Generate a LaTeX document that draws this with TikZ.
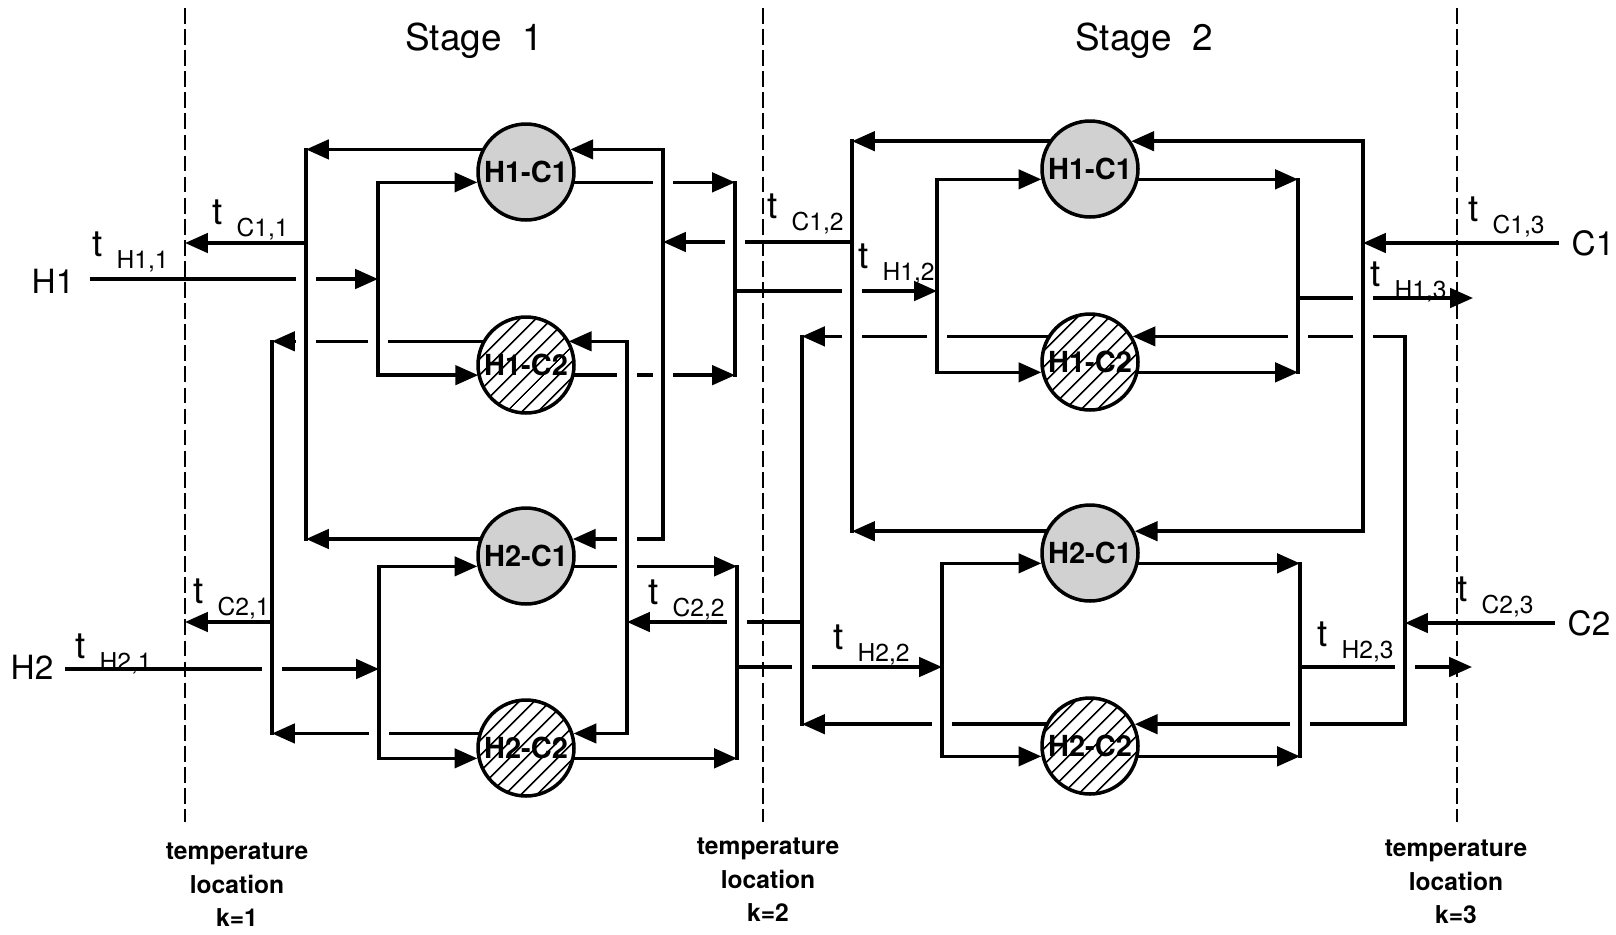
\documentclass[tikz,border=0pt]{standalone}
\usepackage{fontspec}
\setmainfont{TeX Gyre Heros}
\usetikzlibrary{arrows.meta,patterns.meta}

\newcommand{\tsub}[1]{t\hspace{8pt}\raisebox{-7pt}{\fontsize{14}{14}\selectfont #1}}

\tikzset{
  flow/.style={line width=2pt, line cap=rect},
  arr/.style={flow, -{Triangle[length=13pt,width=11pt]}},
  hx/.style={circle, draw, line width=2pt, minimum size=1.92cm, inner sep=0pt,
             font=\fontsize{16.5}{16.5}\selectfont\bfseries},
  hxdot/.style={hx, fill=black!18},
  hxhatch/.style={hx, preaction={fill=white},
                  pattern={Lines[angle=45,distance=6.4pt,line width=1pt]}},
  gapbox/.style={fill=white, inner sep=0pt, minimum width=0.4cm, minimum height=0.15cm},
  tloc/.style={line width=1.5pt, dash pattern=on 9pt off 3pt},
  tl/.style={anchor=base west, inner sep=0pt, font=\fontsize{21}{21}\selectfont},
  strm/.style={inner sep=0pt, font=\fontsize{19}{19}\selectfont},
  stage/.style={inner sep=0pt, font=\fontsize{21}{21}\selectfont},
  loc/.style={inner sep=0pt, align=center, font=\fontsize{14}{19}\selectfont\bfseries}
}

\begin{document}
\begin{tikzpicture}[x=0.02cm, y=-0.02cm]
  \useasboundingbox (0,0) rectangle (1616,934);

  % exchangers
  \node[hxdot]   (s1a) at (526,172) {H1-C1};
  \node[hxhatch] (s1b) at (526,365) {H1-C2};
  \node[hxdot]   (s1c) at (526,556) {H2-C1};
  \node[hxhatch] (s1d) at (526,748) {H2-C2};
  \node[hxdot]   (s2a) at (1090,169) {H1-C1};
  \node[hxhatch] (s2b) at (1090,362) {H1-C2};
  \node[hxdot]   (s2c) at (1090,553) {H2-C1};
  \node[hxhatch] (s2d) at (1090,746) {H2-C2};

  % vertical bars (mixers, splitters)
  \coordinate (c2col1) at (272,0);  \coordinate (c1col1) at (306,0);
  \coordinate (h1spl1) at (378,0);  \coordinate (h2spl1) at (379,0);
  \coordinate (c2dis1) at (627,0);  \coordinate (c1dis1) at (663,0);
  \coordinate (h1mix1) at (735,0);  \coordinate (h2mix1) at (737,0);
  \coordinate (c2col2) at (802,0);  \coordinate (c1col2) at (852,0);
  \coordinate (h1spl2) at (937,0);  \coordinate (h2spl2) at (942,0);
  \coordinate (h1mix2) at (1298,0); \coordinate (h2mix2) at (1300,0);
  \coordinate (c1dis2) at (1363,0); \coordinate (c2dis2) at (1405,0);

  % stream ends
  \coordinate (h1in) at (92,279);    \coordinate (h2in) at (67,669);
  \coordinate (c1out) at (185,243);  \coordinate (c2out) at (185,622);
  \coordinate (c1mid) at (0,242);    \coordinate (h1mid) at (0,291);
  \coordinate (c2mid) at (0,622);    \coordinate (h2mid) at (0,667);
  \coordinate (h1out) at (1473,298); \coordinate (h2out) at (1472,667);
  \coordinate (c1in) at (1557,243);  \coordinate (c2in) at (1553,623);

  % stage 1
  \draw[arr] (h1in) -- (h1in -| h1spl1);
  \draw[arr] (h2in) -- (h2in -| h2spl1);
  \draw[arr] (c1out -| c1col1) -- (c1out);
  \draw[arr] (c2out -| c2col1) -- (c2out);
  \draw[arr] (s1a.153) -- (s1a.153 -| c1col1);
  \draw[arr] (s1b.151) -- (s1b.151 -| c2col1);
  \draw[arr] (s1c.160) -- (s1c.160 -| c1col1);
  \draw[arr] (s1d.163) -- (s1d.163 -| c2col1);
  \draw[arr] (s1a.192 -| h1spl1) -- (s1a.192);
  \draw[arr] (s1b.192 -| h1spl1) -- (s1b.192);
  \draw[arr] (s1c.192 -| h2spl1) -- (s1c.192);
  \draw[arr] (s1d.192 -| h2spl1) -- (s1d.192);
  \draw[arr] (s1a.27 -| c1dis1) -- (s1a.27);
  \draw[arr] (s1b.29 -| c2dis1) -- (s1b.29);
  \draw[arr] (s1c.20 -| c1dis1) -- (s1c.20);
  \draw[arr] (s1d.17 -| c2dis1) -- (s1d.17);
  \draw[arr] (s1a.348) -- (s1a.348 -| h1mix1);
  \draw[arr] (s1b.348) -- (s1b.348 -| h1mix1);
  \draw[arr] (s1c.348) -- (s1c.348 -| h2mix1);
  \draw[arr] (s1d.348) -- (s1d.348 -| h2mix1);

  % between the stages
  \draw[arr] (h1mid -| h1mix1) -- (h1mid -| h1spl2);
  \draw[arr] (c1mid -| c1col2) -- (c1mid -| c1dis1);
  \draw[arr] (c2mid -| c2col2) -- (c2mid -| c2dis1);
  \draw[arr] (h2mid -| h2mix1) -- (h2mid -| h2spl2);

  % stage 2
  \draw[arr] (s2a.146) -- (s2a.146 -| c1col2);
  \draw[arr] (s2b.149) -- (s2b.149 -| c2col2);
  \draw[arr] (s2c.154) -- (s2c.154 -| c1col2);
  \draw[arr] (s2d.154) -- (s2d.154 -| c2col2);
  \draw[arr] (s2a.192 -| h1spl2) -- (s2a.192);
  \draw[arr] (s2b.192 -| h1spl2) -- (s2b.192);
  \draw[arr] (s2c.192 -| h2spl2) -- (s2c.192);
  \draw[arr] (s2d.192 -| h2spl2) -- (s2d.192);
  \draw[arr] (s2a.34 -| c1dis2) -- (s2a.34);
  \draw[arr] (s2b.31 -| c2dis2) -- (s2b.31);
  \draw[arr] (s2c.26 -| c1dis2) -- (s2c.26);
  \draw[arr] (s2d.26 -| c2dis2) -- (s2d.26);
  \draw[arr] (s2a.348) -- (s2a.348 -| h1mix2);
  \draw[arr] (s2b.348) -- (s2b.348 -| h1mix2);
  \draw[arr] (s2c.348) -- (s2c.348 -| h2mix2);
  \draw[arr] (s2d.348) -- (s2d.348 -| h2mix2);
  \draw[arr] (h1out -| h1mix2) -- (h1out);
  \draw[arr] (h2out -| h2mix2) -- (h2out);
  \draw[arr] (c1in) -- (c1in -| c1dis2);
  \draw[arr] (c2in) -- (c2in -| c2dis2);

  % breaks where lines cross
  \foreach \p/\q in {h1in/c1col1, h2in/c2col1, s1b.151/c1col1, s1b.151/h1spl1,
      s1d.163/h2spl1, s1a.348/c1dis1, s1b.348/c2dis1, s1b.348/c1dis1,
      s1c.20/c2dis1, s1c.348/c2dis1, h1mid/c1col2, c1mid/h1mix1,
      c2mid/h2mix1, h2mid/c2col2, s2b.149/h1spl2, s2b.149/c1col2,
      s2d.154/h2spl2, s2b.31/h1mix2, s2b.31/c1dis2, s2d.26/h2mix2,
      h1out/c1dis2, h2out/c2dis2}
    \node[gapbox] at (\p -| \q) {};

  \draw[flow] (s1a.153 -| c1col1) -- (s1c.160 -| c1col1);
  \draw[flow] (s1b.151 -| c2col1) -- (s1d.163 -| c2col1);
  \draw[flow] (s1a.192 -| h1spl1) -- (s1b.192 -| h1spl1);
  \draw[flow] (s1c.192 -| h2spl1) -- (s1d.192 -| h2spl1);
  \draw[flow] (s1a.27 -| c1dis1) -- (s1c.20 -| c1dis1);
  \draw[flow] (s1b.29 -| c2dis1) -- (s1d.17 -| c2dis1);
  \draw[flow] (s1a.348 -| h1mix1) -- (s1b.348 -| h1mix1);
  \draw[flow] (s1c.348 -| h2mix1) -- (s1d.348 -| h2mix1);
  \draw[flow] (s2a.146 -| c1col2) -- (s2c.154 -| c1col2);
  \draw[flow] (s2b.149 -| c2col2) -- (s2d.154 -| c2col2);
  \draw[flow] (s2a.192 -| h1spl2) -- (s2b.192 -| h1spl2);
  \draw[flow] (s2c.192 -| h2spl2) -- (s2d.192 -| h2spl2);
  \draw[flow] (s2a.34 -| c1dis2) -- (s2c.26 -| c1dis2);
  \draw[flow] (s2b.31 -| c2dis2) -- (s2d.26 -| c2dis2);
  \draw[flow] (s2a.348 -| h1mix2) -- (s2b.348 -| h1mix2);
  \draw[flow] (s2c.348 -| h2mix2) -- (s2d.348 -| h2mix2);

  % temperature locations
  \foreach \x in {185,763,1457}
    \draw[tloc] (\x,8) -- (\x,822);

  \node[stage] (st1) at (474,41) {Stage\ \ 1};
  \node[stage] (st2) at (1144,41) {Stage\ \ 2};
  \node[strm] (H1) at (53,281) {H1};
  \node[strm] (H2) at (32,667) {H2};
  \node[strm] (C1) at (1593,243) {C1};
  \node[strm] (C2) at (1589,623) {C2};

  \node[tl] (tc11) at (212,224) {\tsub{C1,1}};
  \node[tl] (th11) at (92,256) {\tsub{H1,1}};
  \node[tl] (tc21) at (193,603) {\tsub{C2,1}};
  \node[tl] (th21) at (75,658) {\tsub{H2,1}};
  \node[tl] (tc12) at (767,218) {\tsub{C1,2}};
  \node[tl] (th12) at (858,268) {\tsub{H1,2}};
  \node[tl] (tc22) at (648,604) {\tsub{C2,2}};
  \node[tl] (th22) at (833,649) {\tsub{H2,2}};
  \node[tl] (tc13) at (1468,221) {\tsub{C1,3}};
  \node[tl] (th13) at (1370,286) {\tsub{H1,3}};
  \node[tl] (tc23) at (1457,601) {\tsub{C2,3}};
  \node[tl] (th23) at (1317,646) {\tsub{H2,3}};

  \node[loc] (k1) at (237,885) {temperature\\location\\k=1};
  \node[loc] (k2) at (768,880) {temperature\\location\\k=2};
  \node[loc] (k3) at (1456,882) {temperature\\location\\k=3};
\end{tikzpicture}
\end{document}
